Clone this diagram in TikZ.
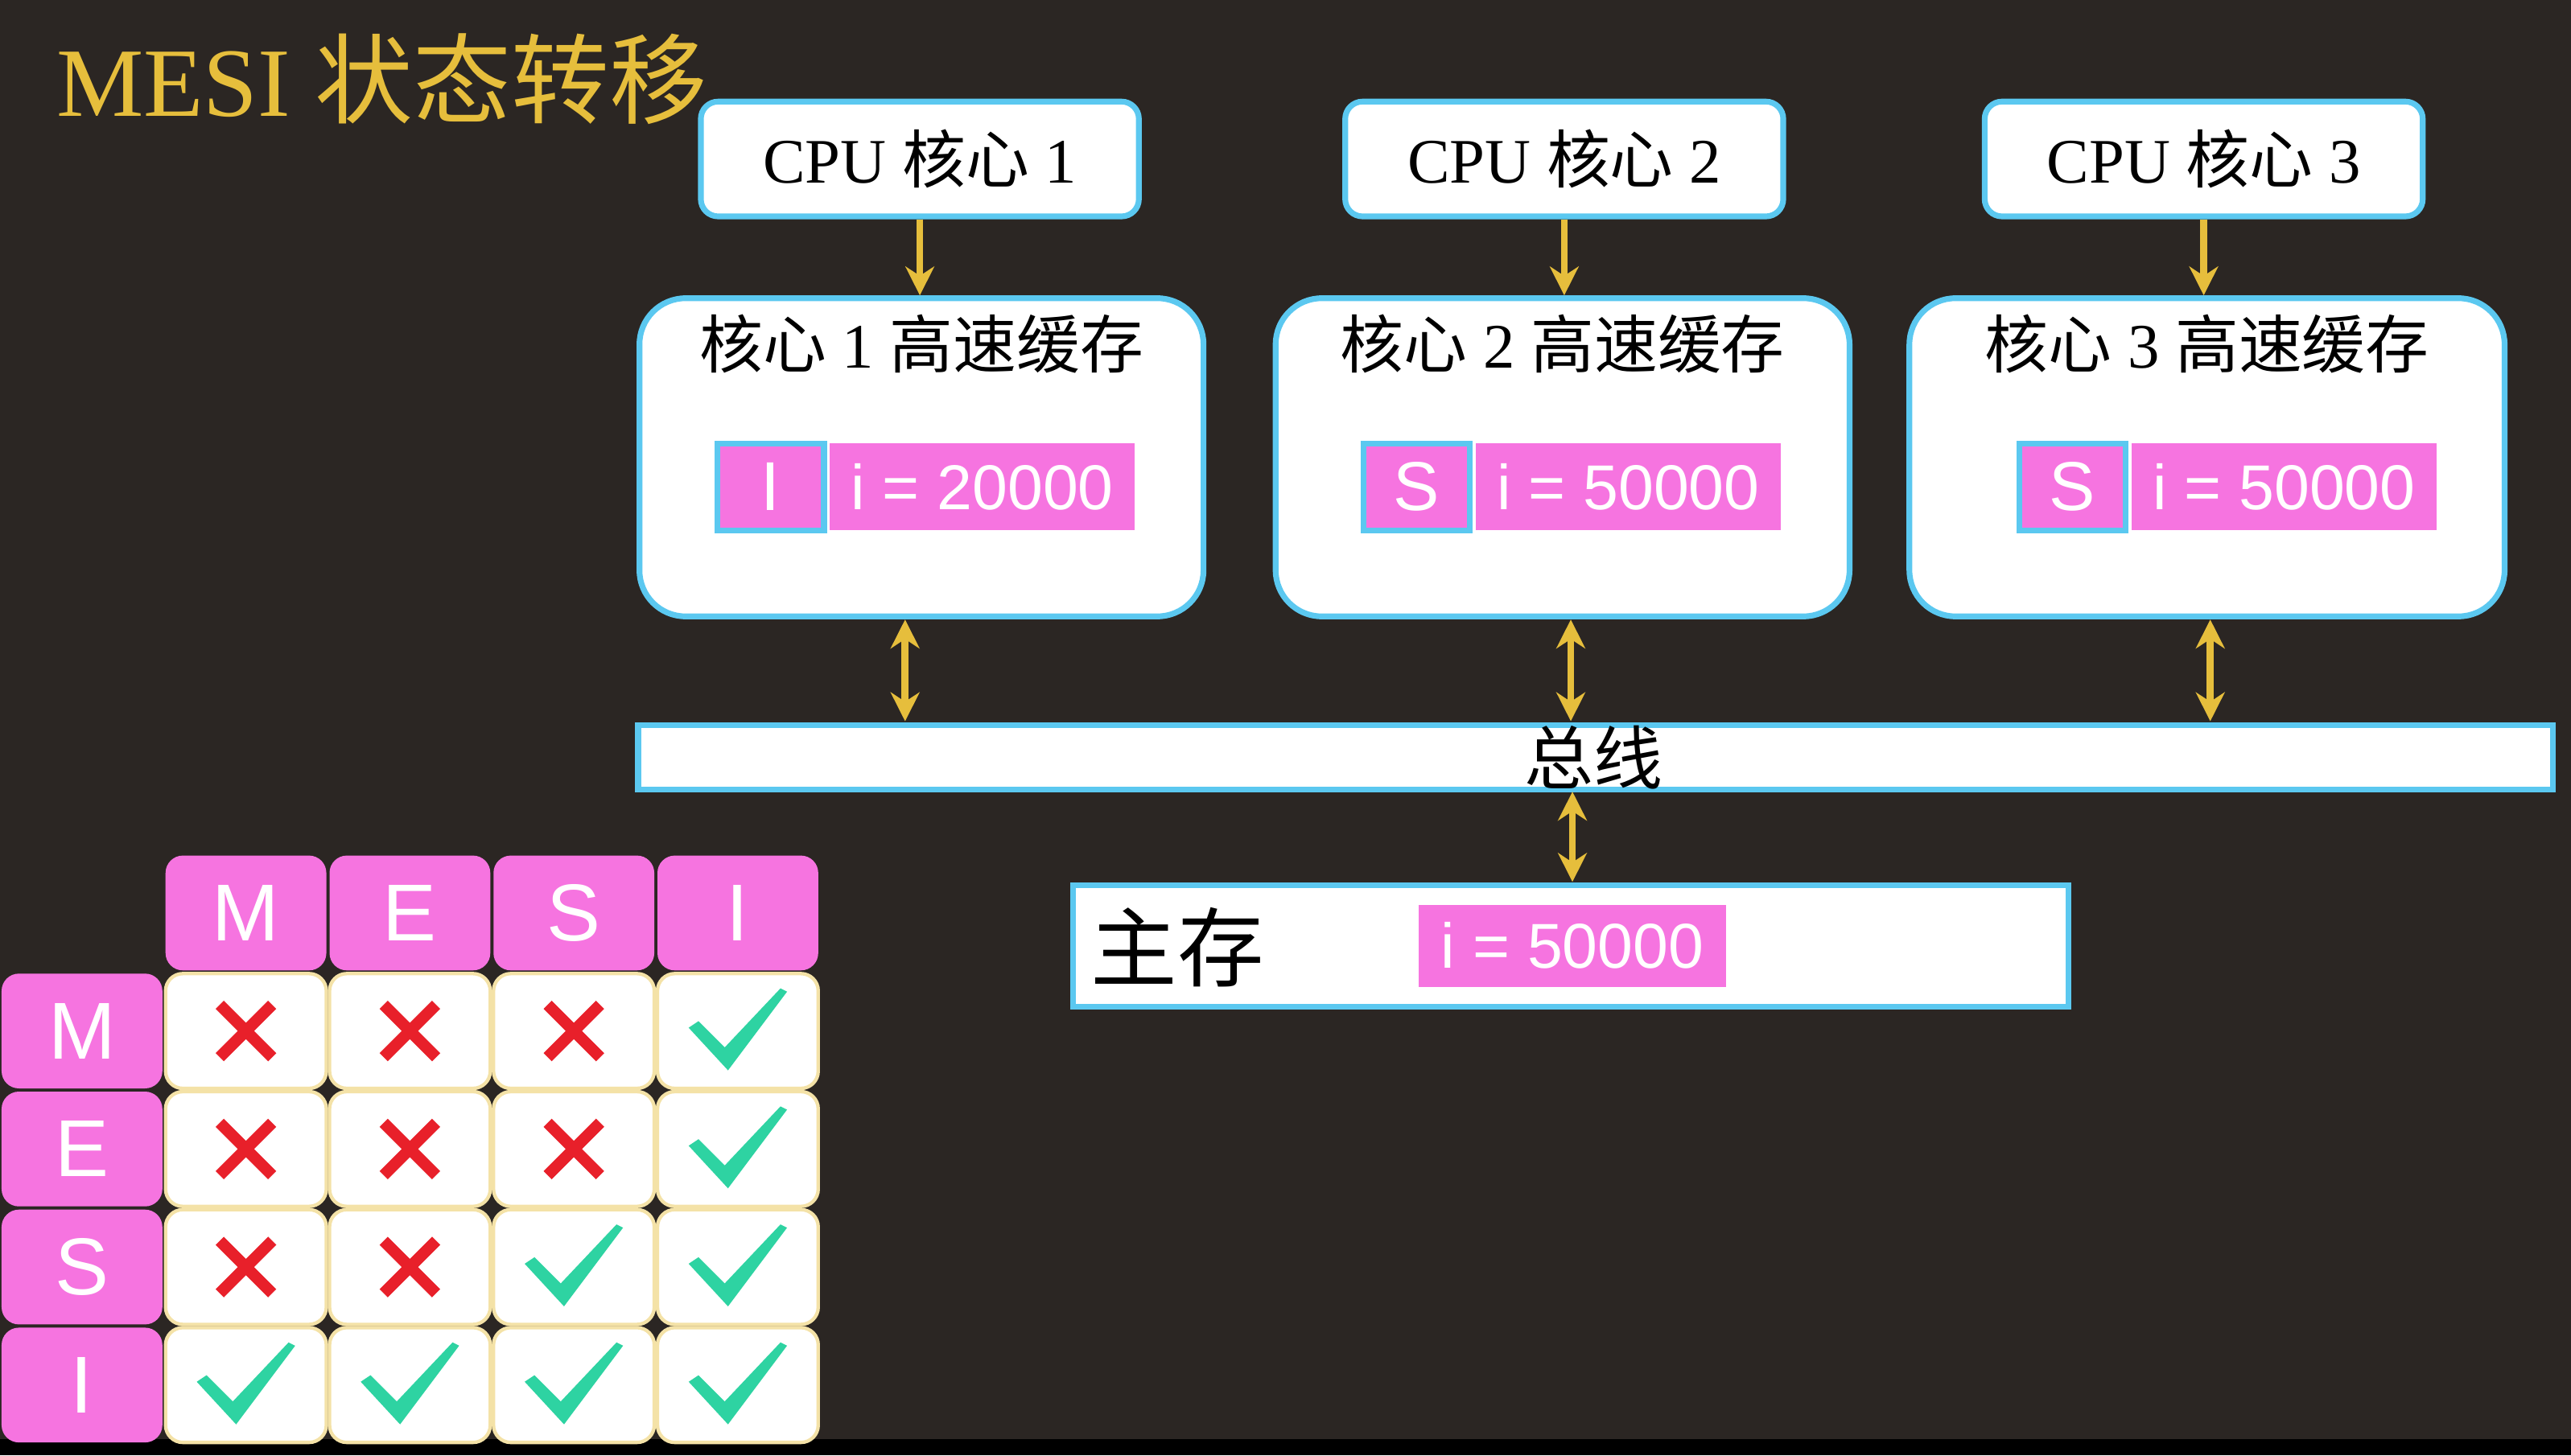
\documentclass[tikz,border=0pt]{standalone}
\usepackage{fontspec}
\setmainfont{Liberation Serif}
\setsansfont{Liberation Sans}
\newfontfamily\cjk{Noto Sans CJK SC}
\usetikzlibrary{arrows.meta}
\definecolor{bgdark}{HTML}{2B2623}
\definecolor{gold}{HTML}{E6BE3C}
\definecolor{pinkst}{HTML}{F674E0}
\definecolor{edgeblue}{HTML}{5BC8F0}
\definecolor{tick}{HTML}{2ED3A2}
\definecolor{crossred}{HTML}{E8202A}
\tikzset{
  box/.style={draw=edgeblue,line width=1pt,fill=white,rounded corners=3pt,inner sep=0pt},
  cache/.style={box,rounded corners=8pt},
  state/.style={draw=edgeblue,line width=1pt,fill=pinkst,inner sep=0pt,text=white,font=\sffamily\fontsize{12}{12}\selectfont},
  val/.style={fill=pinkst,inner sep=0pt,text=white,font=\sffamily\fontsize{11}{11}\selectfont},
  head/.style={fill=pinkst,rounded corners=3pt,inner sep=0pt,text=white,font=\sffamily\fontsize{14}{14}\selectfont,minimum width=0.98cm,minimum height=0.70cm},
  cell/.style={draw=gold!45!white,line width=0.6pt,fill=white,rounded corners=3pt,inner sep=0pt,minimum width=0.98cm,minimum height=0.70cm},
  link/.style={gold,line width=1.2pt,-{Stealth[length=5pt,width=5pt]}},
  dlink/.style={gold,line width=1.2pt,{Stealth[length=5pt,width=5pt]}-{Stealth[length=5pt,width=5pt]}},
}
\newcommand\nocross[1]{\draw[crossred,line width=2pt] ($(#1)+(-16,-16)$) -- ($(#1)+(16,16)$) ($(#1)+(-16,16)$) -- ($(#1)+(16,-16)$);}
\newcommand\yestick[1]{\fill[tick] ($(#1)+(-30,-2)$) -- ($(#1)+(-24,-6)$) -- ($(#1)+(-8,10)$) -- ($(#1)+(26,-26)$) -- ($(#1)+(30,-24)$) -- ($(#1)+(-6,24)$) -- cycle;}
\usetikzlibrary{calc}
\begin{document}
\begin{tikzpicture}[x=0.01cm,y=-0.01cm]
\fill[bgdark] (0,0) rectangle (1568,888);
\fill[black] (0,878) rectangle (1568,888);
\useasboundingbox (0,0) rectangle (1568,888);

\node[gold,anchor=west,font=\fontsize{17}{17}\selectfont] (title) at (22,48) {MESI {\cjk 状态转移}};

% cpus and caches
\foreach \n/\cx/\kx/\kw/\sx/\vx/\st/\v in {1/561/562/344/470/599/I/20000, 2/954/953/350/864/993/S/50000, 3/1344/1346/363/1264/1393/S/50000}{
  \node[box,minimum width=2.67cm,minimum height=0.70cm,font=\fontsize{11}{11}\selectfont] (cpu\n) at (\cx,97) {CPU {\cjk 核心} \n};
  \node[cache,minimum width=\kw*0.01cm,minimum height=1.94cm] (cache\n) at (\kx,279) {};
  \node[font=\fontsize{11}{11}\selectfont] (ct\n) at (\kx,210) {{\cjk 核心} \n\ {\cjk 高速缓存}};
  \node[state,minimum width=0.65cm,minimum height=0.53cm] (st\n) at (\sx,297) {\st};
  \node[val,minimum width=1.86cm,minimum height=0.53cm] (v\n) at (\vx,297) {i = \v};
  \draw[link] (cpu\n) -- (cpu\n |- cache\n.north);
}

% bus and memory
\node[box,rounded corners=0pt,minimum width=11.67cm,minimum height=0.39cm] (bus) at (973,462) {};
\node[font=\cjk\fontsize{12}{12}\selectfont] (bustext) at (972,462) {总线};
\node[box,rounded corners=0pt,minimum width=6.07cm,minimum height=0.74cm] (mem) at (958,577) {};
\node[font=\cjk\fontsize{15}{15}\selectfont] (memtext) at (718,578) {主存};
\node[val,minimum width=1.87cm,minimum height=0.50cm] (mv) at (959,577) {i = 50000};

\draw[dlink] (552,378) -- (552,440);
\draw[dlink] (958,378) -- (958,440);
\draw[dlink] (1348,378) -- (1348,440);
\draw[dlink] (959,483) -- (959,538);

% table
\foreach \s [count=\i] in {M,E,S,I}{
  \node[head] (h\i) at (50+100*\i,557) {\s};
  \node[head] (r\i) at (50,557+72*\i) {\s};
}
\foreach \row/\marks in {1/{0,0,0,1},2/{0,0,0,1},3/{0,0,1,1},4/{1,1,1,1}}{
  \foreach \m [count=\c] in \marks{
    \node[cell] (c\row\c) at (50+100*\c,557+72*\row) {};
    \ifnum\m=1 \yestick{c\row\c}\else\nocross{c\row\c}\fi
  }
}
\end{tikzpicture}
\end{document}
